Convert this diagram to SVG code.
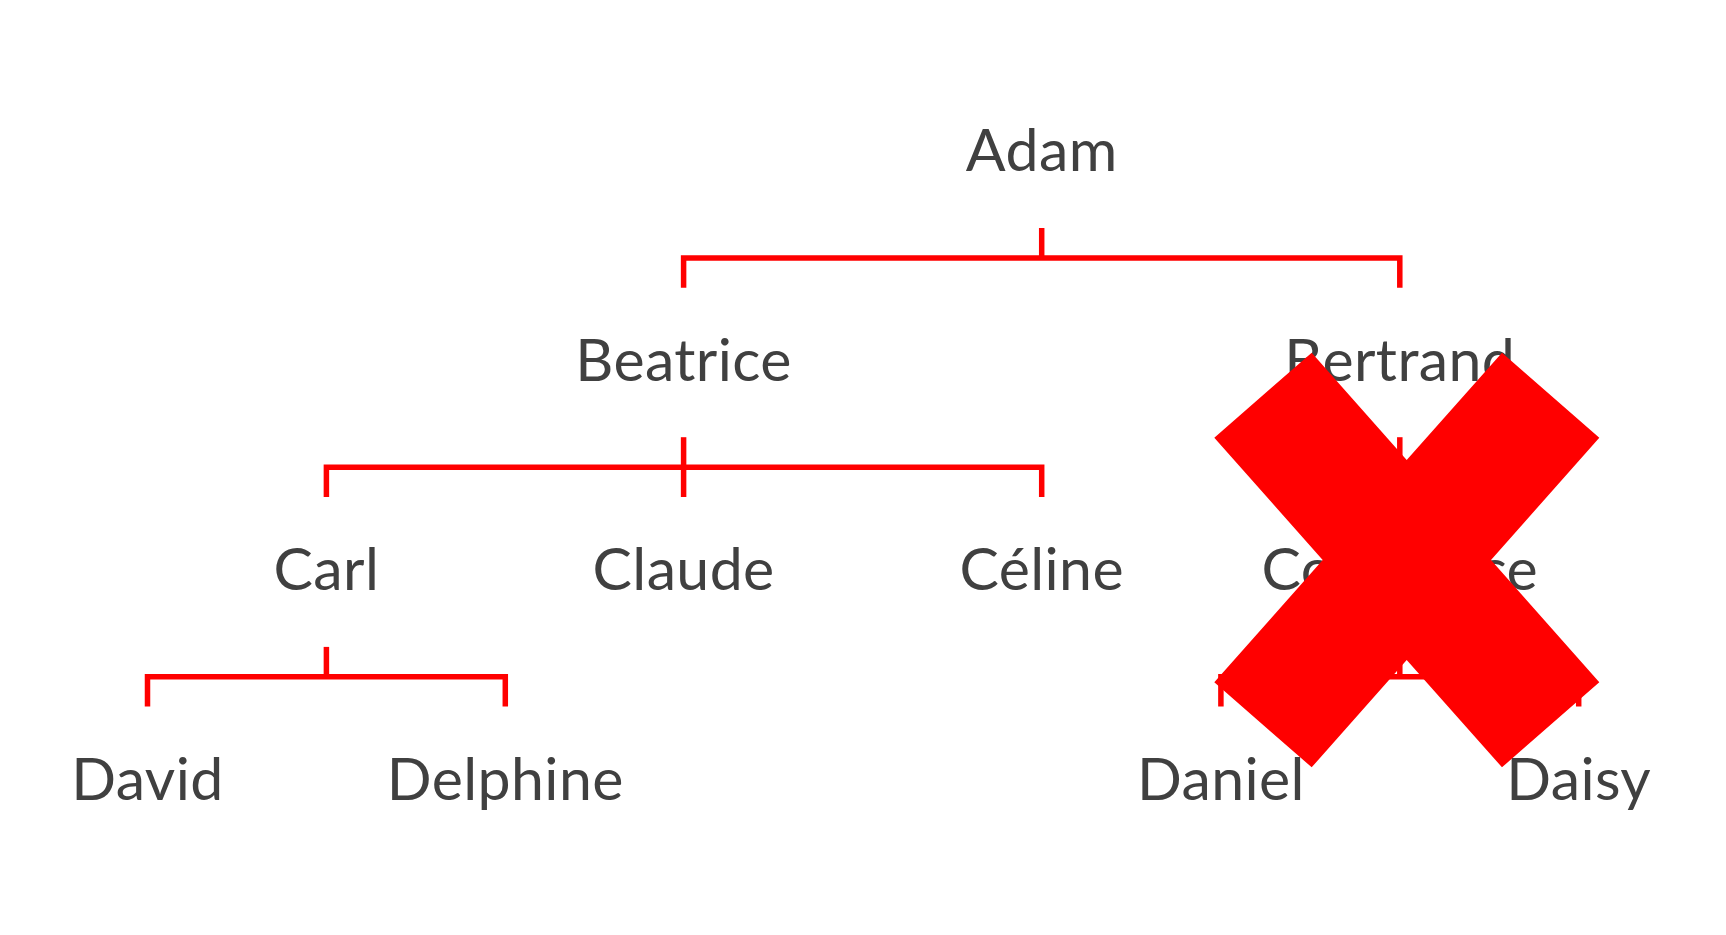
<svg xmlns="http://www.w3.org/2000/svg" width="1726" height="935" viewBox="0 0 1726 935">
  <style>
    .name { font-family: Lato, "Open Sans", "Liberation Sans", sans-serif; font-size: 59px; fill: #404040; text-anchor: middle; letter-spacing: 0.4px; }
    .link { fill: none; stroke: #ff0000; stroke-width: 5.5; stroke-linejoin: miter; stroke-linecap: butt; }
    .cross { fill: #ff0000; }
  </style>
  <rect width="1726" height="935" fill="#ffffff"/>
  <g id="connectors">
    <path class="link" d="M683.6 287.7 V258 H1399.8 V287.7"/>
    <path class="link" d="M1041.7 228 V258"/>
    <path class="link" d="M326.4 497 V467.2 H1041.7 V497"/>
    <path class="link" d="M683.6 437.2 V497"/>
    <path class="link" d="M1399.8 437.2 V497"/>
    <path class="link" d="M147.5 706.5 V676.7 H505.3 V706.5"/>
    <path class="link" d="M326.4 646.9 V676.7"/>
    <path class="link" d="M1220.9 706.5 V676.7 H1578.7 V706.5"/>
    <path class="link" d="M1399.8 646.9 V676.7"/>
  </g>
  <g id="adam"><text class="name" x="1041.7" y="171.3">Adam</text></g>
  <g id="beatrice"><text class="name" x="683.6" y="380.7">Beatrice</text></g>
  <g id="bertrand"><text class="name" x="1399.8" y="380.7">Bertrand</text></g>
  <g id="carl"><text class="name" x="326.4" y="590.1">Carl</text></g>
  <g id="claude"><text class="name" x="683.6" y="590.1">Claude</text></g>
  <g id="celine"><text class="name" x="1041.7" y="590.1">Céline</text></g>
  <g id="constance"><text class="name" x="1399.8" y="590.1">Constance</text></g>
  <g id="david"><text class="name" x="147.5" y="799.5">David</text></g>
  <g id="delphine"><text class="name" x="505.3" y="799.5">Delphine</text></g>
  <g id="daniel"><text class="name" x="1220.9" y="799.5">Daniel</text></g>
  <g id="daisy"><text class="name" x="1578.7" y="799.5">Daisy</text></g>
  <g id="cross">
    <polygon class="cross" points="1311.7,352.7 1406.7,460 1502,352.7 1599.3,437.7 1491,560 1599.3,682.3 1502,767.3 1406.7,660 1311.7,767.3 1214.3,682.3 1322.7,560 1214.3,437.7"/>
  </g>
</svg>
